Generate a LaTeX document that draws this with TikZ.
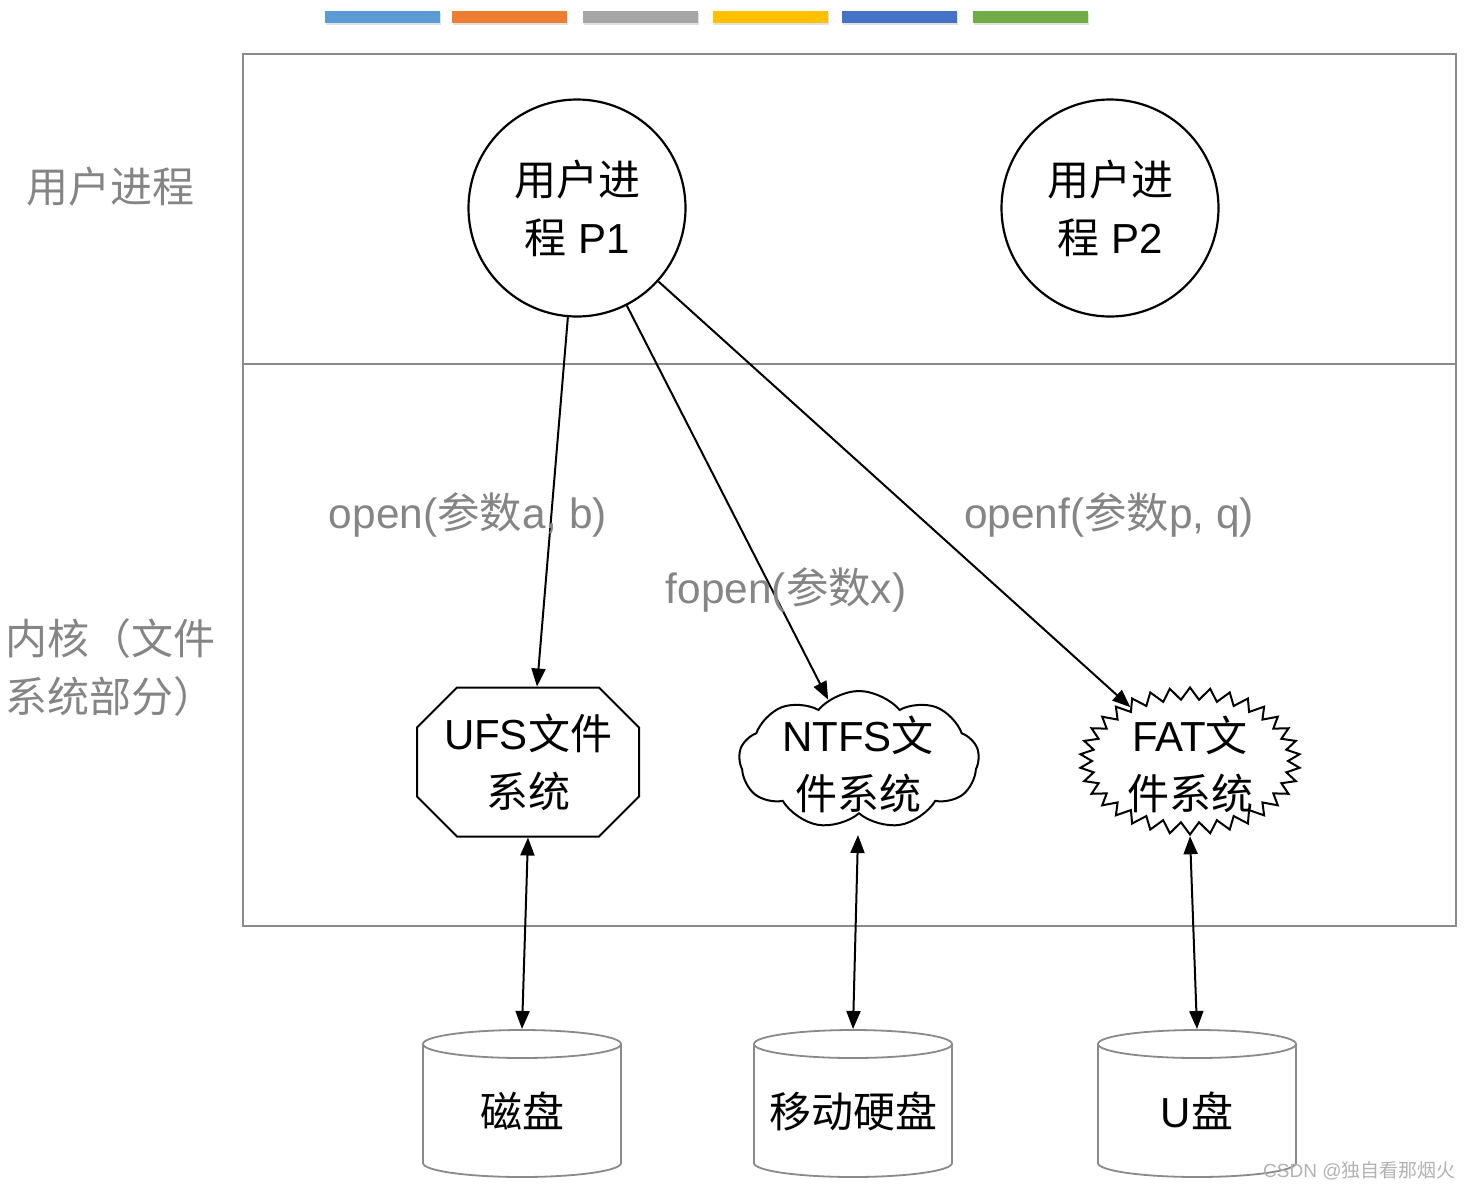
\documentclass[tikz,border=0pt]{standalone}
\usepackage{fontspec}
\setmainfont{Liberation Sans}
\newfontfamily\cjk{Noto Sans CJK SC}
\usetikzlibrary{arrows.meta,shapes.misc,shapes.symbols}
\definecolor{framegray}{HTML}{8A8A8A}
\definecolor{labelgray}{HTML}{858585}
\definecolor{barA}{HTML}{5B9BD5}
\definecolor{barB}{HTML}{ED7D31}
\definecolor{barC}{HTML}{A5A5A5}
\definecolor{barD}{HTML}{FFC000}
\definecolor{barE}{HTML}{4472C4}
\definecolor{barF}{HTML}{70AD47}
\tikzset{
  bigtext/.style={font=\fontsize{21}{29}\selectfont, align=center},
  proc/.style={circle, draw=black, line width=1.1pt, minimum size=108.5pt, inner sep=0pt},
  sidelabel/.style={font=\fontsize{21}{29}\selectfont\cjk, text=labelgray, align=left, inner sep=0pt},
  calllabel/.style={font=\fontsize{21.2}{25}\selectfont, text=labelgray, inner sep=0pt},
  conn/.style={draw=black, line width=1pt, -{Triangle[length=9pt,width=7pt]}},
  biconn/.style={draw=black, line width=1pt, {Triangle[length=9pt,width=7pt]}-{Triangle[length=9pt,width=7pt]}},
  cyl/.style={draw=framegray, line width=0.9pt, fill=white},
  colorbar/.style={draw=none, minimum width=57.5pt, minimum height=6pt, inner sep=0pt},
  barshadow/.style={fill=black!12, draw=none, minimum width=57.5pt, minimum height=6pt, inner sep=0pt}
}
\begin{document}
\begin{tikzpicture}[x=0.5pt,y=-0.5pt]
\path[use as bounding box] (0,0) rectangle (1472,1190);

% colour bars
\foreach \cx/\col [count=\i] in {382.5/barA,509.5/barB,640.5/barC,770/barD,899/barE,1030/barF}{
  \node[barshadow] (shadow\i) at (\cx+1,19) {};
  \node[colorbar, fill=\col] (bar\i) at (\cx,17) {};
}

% frame
\draw[framegray, line width=0.8pt] (243,54) rectangle (1456,926);
\draw[framegray, line width=0.8pt] (243,364) -- (1456,364);

% side labels
\node[sidelabel, anchor=center] (ulabel) at (110,187) {用户进程};
\node[sidelabel, anchor=west] (klabel) at (5,668) {内核（文件\\系统部分）};

% processes
\node[proc, bigtext] (p1) at (577,208) {{\cjk 用户进}\\{\cjk 程} P1};
\node[proc, bigtext] (p2) at (1110,208) {{\cjk 用户进}\\{\cjk 程} P2};

% file systems
\node[chamfered rectangle, chamfered rectangle xsep=10pt, chamfered rectangle ysep=10pt,
      draw=black, line width=1pt, minimum width=111pt, minimum height=74.5pt, inner sep=0pt,
      bigtext] (ufs) at (528,762) {UFS{\cjk 文件}\\{\cjk 系统}};
\node[cloud, cloud puffs=9, cloud puff arc=100, aspect=1.75, draw=black, line width=1pt,
      minimum width=120pt, minimum height=69pt, inner sep=0pt] (ntfs) at (859,760) {};
\node[bigtext] (ntfst) at (858,764) {NTFS{\cjk 文}\\{\cjk 件系统}};
\coordinate (ntfsbot) at (858,835);
\node[starburst, starburst points=34, starburst point height=6pt, random starburst=0,
      draw=black, line width=1pt, fill=white,
      minimum width=110pt, minimum height=73.5pt, inner sep=0pt] (fat) at (1190,761) {};
\node[bigtext] (fatt) at (1190,764) {FAT{\cjk 文}\\{\cjk 件系统}};

% storage cylinders
\foreach \name/\cx in {disk/522,move/853,usb/1197}{
  \draw[cyl] (\cx-99,1044) -- (\cx-99,1163)
     arc[start angle=180,end angle=360,x radius=49.5pt,y radius=7pt]
     -- (\cx+99,1044);
  \draw[cyl] (\cx,1044) ellipse[x radius=49.5pt,y radius=7pt];
  \coordinate (\name top) at (\cx,1029);
}
\node[bigtext, font=\fontsize{21}{29}\selectfont\cjk] (disk) at (522,1111) {磁盘};
\node[bigtext, font=\fontsize{21}{29}\selectfont\cjk] (move) at (853,1111) {移动硬盘};
\node[bigtext] (usb) at (1197,1111) {U{\cjk 盘}};

% calls
\draw[conn] (p1) -- ([xshift=4.5pt]ufs.north);
\draw[conn] (p1) -- (ntfs);
\draw[conn] (p1) -- (fat);

\node[calllabel] (l1) at (468,515) {open({\cjk 参数}a, b)};
\node[calllabel] (l2) at (786,590) {fopen({\cjk 参数}x)};
\node[calllabel] (l3) at (1109,515) {openf({\cjk 参数}p, q)};

% storage links
\draw[biconn] (ufs.south) -- (disktop);
\draw[biconn] (ntfsbot) -- (movetop);
\draw[biconn] (fat.south) -- (usbtop);

% watermark
\node[font=\fontsize{9.5}{12}\selectfont, text=black!30, anchor=east, inner sep=0pt] (wm) at (1456,1171) {CSDN @{\cjk 独自看那烟火}};
\end{tikzpicture}
\end{document}
